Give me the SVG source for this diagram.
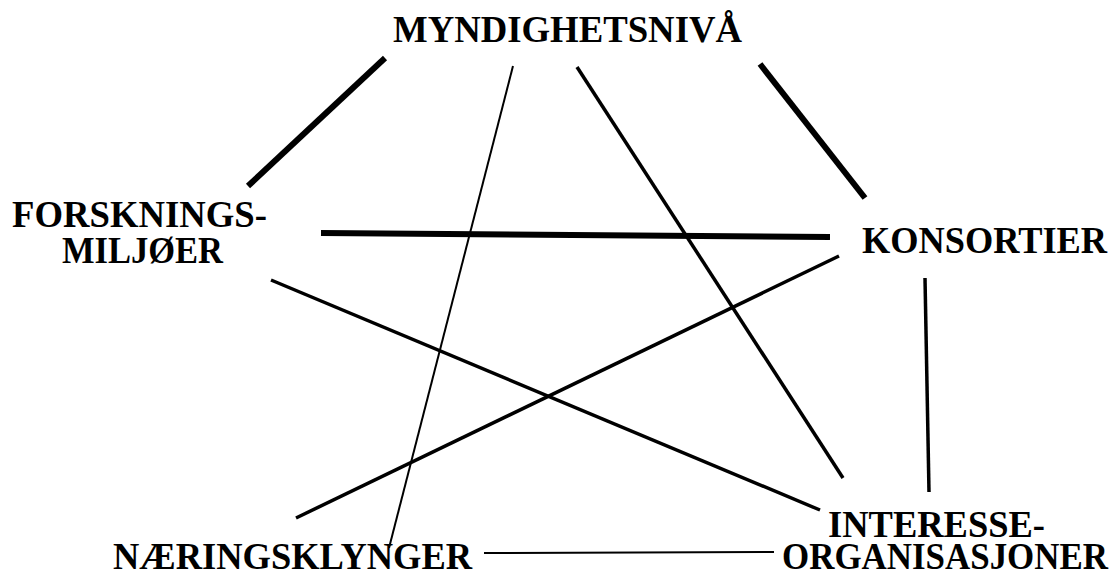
<svg xmlns="http://www.w3.org/2000/svg" width="1113" height="573" viewBox="0 0 1113 573">
<style>
text{font-family:"Liberation Serif","Times New Roman",serif;font-weight:bold;font-size:38px;fill:#000}
.thick{stroke:#000;stroke-width:6;fill:none}
.med{stroke:#000;stroke-width:3.5;fill:none}
.thin{stroke:#000;stroke-width:2;fill:none}
</style>
<rect width="1113" height="573" fill="#fff"/>
<g id="connectors">
<line class="thick" x1="385" y1="58" x2="248" y2="186"/>
<line class="thin" x1="513" y1="66" x2="389" y2="548"/>
<line class="med" x1="577" y1="67" x2="843" y2="478"/>
<line class="thick" x1="760" y1="64" x2="865" y2="198"/>
<line class="thick" x1="321" y1="233" x2="830" y2="237"/>
<line class="med" x1="839" y1="256" x2="296" y2="518"/>
<line class="med" x1="271" y1="280" x2="820" y2="510"/>
<line class="med" x1="925" y1="278" x2="929" y2="492"/>
<line class="thin" x1="484" y1="553" x2="774" y2="552"/>
</g>
<g id="myndighetsniva"><text x="393" y="42" textLength="349" lengthAdjust="spacingAndGlyphs">MYNDIGHETSNIVÅ</text></g>
<g id="forskningsmiljoer"><text x="12" y="227" textLength="255" lengthAdjust="spacingAndGlyphs">FORSKNINGS-</text><text x="62" y="263" textLength="161" lengthAdjust="spacingAndGlyphs">MILJØER</text></g>
<g id="konsortier"><text x="862" y="253" textLength="245" lengthAdjust="spacingAndGlyphs">KONSORTIER</text></g>
<g id="interesseorganisasjoner"><text x="828" y="537" textLength="217" lengthAdjust="spacingAndGlyphs">INTERESSE-</text><text x="782" y="569" textLength="326" lengthAdjust="spacingAndGlyphs">ORGANISASJONER</text></g>
<g id="naeringsklynger"><text x="113" y="569" textLength="359" lengthAdjust="spacingAndGlyphs">NÆRINGSKLYNGER</text></g>
</svg>
